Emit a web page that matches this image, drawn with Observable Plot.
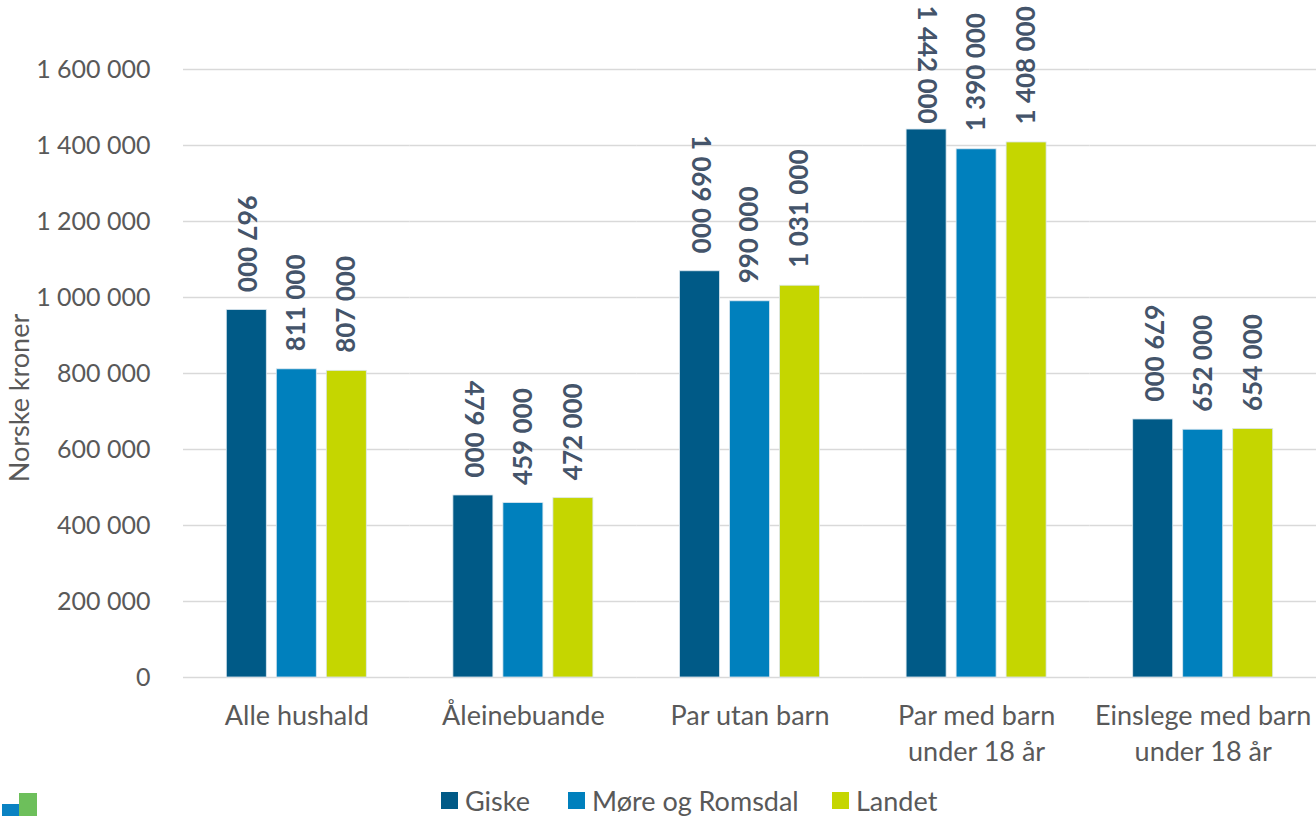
<!DOCTYPE html>
<html>
<head>
<meta charset="utf-8">
<script src="https://cdn.jsdelivr.net/npm/d3@7"></script>
<script src="https://cdn.jsdelivr.net/npm/@observablehq/plot@0.6"></script>
<style>
  html, body { margin: 0; padding: 0; background: #fff; }
  #wrap { position: relative; width: 1316px; height: 816px; overflow: hidden; font-family: Lato, "Open Sans", sans-serif; }
  #legend { position: absolute; left: 0; top: 784px; width: 1316px; height: 32px; font-size: 27px; color: #595959; }
  #legend .item { position: absolute; top: 0; display: flex; align-items: center; height: 32px; white-space: nowrap; }
  #legend .swatch { width: 17px; height: 17px; margin-right: 7px; }
  .logo { position: absolute; }
</style>
</head>
<body>
<div id="wrap">
  <div id="chart"></div>
  <div id="legend"></div>
  <div class="logo" style="left:2px; top:804px; width:17px; height:12px; background:#0a82c2;"></div>
  <div class="logo" style="left:19px; top:793px; width:18px; height:23px; background:#6dbf5b;"></div>
</div>
<script>
// Household categories (x groups) and the three compared areas
const categories = [
  "Alle hushald",
  "Åleinebuande",
  "Par utan barn",
  "Par med barn\nunder 18 år",
  "Einslege med barn\nunder 18 år"
];
const series = ["Giske", "Møre og Romsdal", "Landet"];
const colors = ["#005a87", "#0080bd", "#c5d600"];
const legendLeft = [441, 568, 832];

// Median household income after tax, NOK
const giske        = [967000, 479000, 1069000, 1442000, 679000];
const moreRomsdal  = [811000, 459000,  990000, 1390000, 652000];
const landet       = [807000, 472000, 1031000, 1408000, 654000];

const yTicks = [0, 200000, 400000, 600000, 800000, 1000000, 1200000, 1400000, 1600000];

// labels of very tall bars are pushed down so they stay inside the chart
const labelCeiling = 1410000;

const locale = d3.formatLocale({decimal: ",", thousands: " ", grouping: [3], currency: ["", ""]});
const fmt = locale.format(",d");

const seriesValues = [giske, moreRomsdal, landet];
const data = [];
series.forEach((s, i) => {
  categories.forEach((c, j) => {
    data.push({category: c, series: s, value: seriesValues[i][j]});
  });
});

const labelFont = {fontSize: 26, fontWeight: "bold", fill: "#44546a"};

const chart = Plot.plot({
  width: 1316,
  height: 780,
  marginLeft: 183,
  marginRight: 0,
  marginTop: 69,
  marginBottom: 103,
  style: {fontFamily: "Lato, 'Open Sans', sans-serif", background: "#fff"},
  fx: {domain: categories, padding: 0, round: false, axis: null, label: null},
  x: {domain: series, paddingInner: 0.2, paddingOuter: 0.866, round: false, axis: null},
  y: {domain: [0, 1600000], axis: null},
  color: {domain: series, range: colors},
  marks: [
    Plot.gridY(yTicks, {stroke: "#d9d9d9", strokeOpacity: 1, strokeWidth: 1.5}),
    Plot.axisY(yTicks, {
      tickSize: 0, tickPadding: 33, tickFormat: fmt,
      fontSize: 25, color: "#595959", label: null
    }),
    Plot.barY(data, {fx: "category", x: "series", y: "value", fill: "series",
      stroke: "#dbe7ef", strokeWidth: 0.8}),
    // Giske labels read top-to-bottom, the others bottom-to-top
    Plot.text(data.filter(d => d.series === "Giske"), {
      fx: "category", x: "series", y: d => Math.min(d.value, labelCeiling),
      text: d => fmt(d.value),
      rotate: 90, textAnchor: "end", dy: -18, ...labelFont
    }),
    Plot.text(data.filter(d => d.series !== "Giske"), {
      fx: "category", x: "series", y: "value", text: d => fmt(d.value),
      rotate: -90, textAnchor: "start", dy: -18, ...labelFont
    }),
    // category labels under each group
    Plot.text(categories, {
      fx: d => d, text: d => d, frameAnchor: "bottom", lineAnchor: "top",
      dy: 23, lineHeight: 1.3, fontSize: 27, fill: "#595959"
    })
  ]
});

document.getElementById("chart").appendChild(chart);

// y-axis title
d3.select(chart).append("text")
  .attr("transform", "translate(22,398) rotate(-90)")
  .attr("text-anchor", "middle")
  .attr("dominant-baseline", "middle")
  .attr("font-size", 27)
  .attr("fill", "#595959")
  .text("Norske kroner");

// legend
const legend = d3.select("#legend");
series.forEach((s, i) => {
  const item = legend.append("div").attr("class", "item").style("left", legendLeft[i] + "px");
  item.append("div").attr("class", "swatch").style("background", colors[i]);
  item.append("span").text(s);
});
</script>
</body>
</html>
